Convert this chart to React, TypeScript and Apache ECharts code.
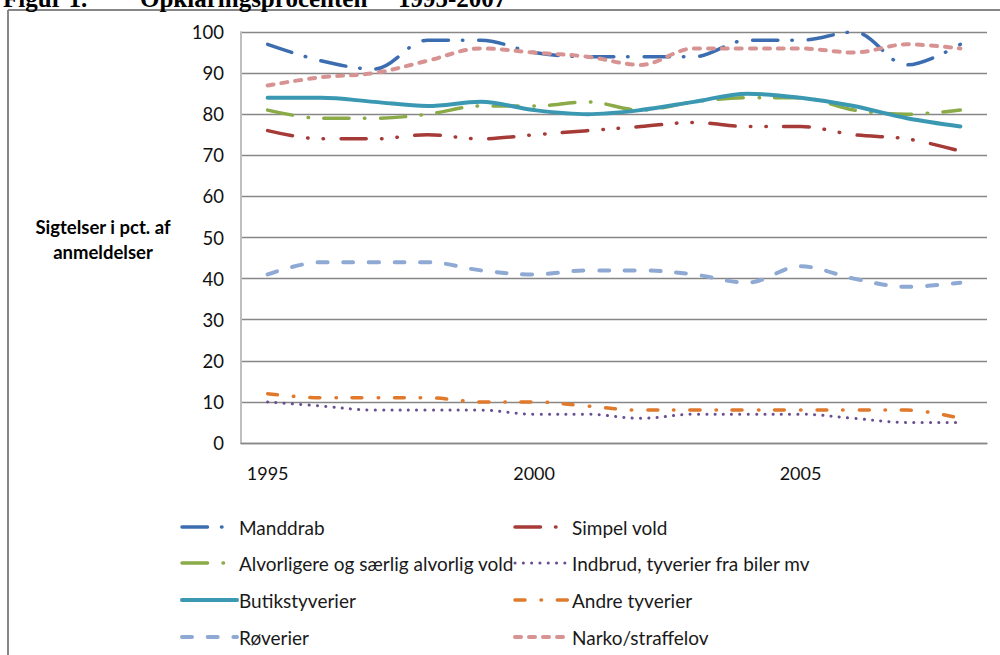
import React, { useEffect, useRef } from 'react';
import * as echarts from 'echarts';

const years = ['1995', '1996', '1997', '1998', '1999', '2000', '2001', '2002', '2003', '2004', '2005', '2006', '2007', '2008'];
const seriesNames = [
  'Manddrab',
  'Simpel vold',
  'Alvorligere og særlig alvorlig vold',
  'Indbrud, tyverier fra biler mv',
  'Butikstyverier',
  'Andre tyverier',
  'Røverier',
  'Narko/straffelov',
];
const manddrab = [97, 93, 91, 98, 98, 95, 94, 94, 94, 98, 98, 100, 92, 97];
const simpelVold = [76, 74, 74, 75, 74, 75, 76, 77, 78, 77, 77, 75, 74, 71];
const alvorligVold = [81, 79, 79, 80, 82, 82, 83, 81, 83, 84, 84, 81, 80, 81];
const indbrud = [10, 9, 8, 8, 8, 7, 7, 6, 7, 7, 7, 6, 5, 5];
const butik = [84, 84, 83, 82, 83, 81, 80, 81, 83, 85, 84, 82, 79, 77];
const andreTyverier = [12, 11, 11, 11, 10, 10, 9, 8, 8, 8, 8, 8, 8, 6];
const roeverier = [41, 44, 44, 44, 42, 41, 42, 42, 41, 39, 43, 40, 38, 39];
const narko = [87, 89, 90, 93, 96, 95, 94, 92, 96, 96, 96, 95, 97, 96];
const seriesValues = [manddrab, simpelVold, alvorligVold, indbrud, butik, andreTyverier, roeverier, narko];

const titleParts = ['Figur 1.', 'Opklaringsprocenten', '1995-2007'];
const yAxisTitle = 'Sigtelser i pct. af\nanmeldelser';

const colors = ['#3C6DB0', '#A53A37', '#8AAB48', '#6B4E91', '#3A98B3', '#E0792B', '#8EA9D3', '#D79392'];
const dashes: (number[] | 'solid')[] = [
  [25.5, 14, 0.5, 15.7],
  [25.5, 15, 0.5, 15, 0.5, 17.5],
  [25.5, 15.5, 0.5, 15.2],
  [0.1, 8.2],
  'solid',
  [10, 16, 0.5, 15.8],
  [10, 15.7],
  [6, 8],
];
const widths = [3.5, 3.5, 3.5, 3, 4, 3.5, 4, 4];

const FONT = 'Lato, "Open Sans", sans-serif';

export default function App() {
  const ref = useRef<HTMLDivElement>(null);
  useEffect(() => {
    const chart = echarts.init(ref.current!, null, { renderer: 'svg' });
    const legendCols = [182, 515];
    const legendRows = [527, 563, 600, 637];
    const legendGraphics: any[] = [];
    seriesNames.forEach((name, i) => {
      const x0 = legendCols[i % 2];
      const y = legendRows[Math.floor(i / 2)];
      legendGraphics.push({
        type: 'line',
        shape: { x1: x0, y1: y, x2: x0 + 55, y2: y },
        style: {
          stroke: colors[i],
          lineWidth: widths[i],
          lineDash: dashes[i] === 'solid' ? null : dashes[i],
          lineCap: 'round',
        },
      });
      legendGraphics.push({
        type: 'text',
        x: x0 + 57,
        y: y,
        style: { text: name, font: `19px ${FONT}`, fill: '#1a1a1a', verticalAlign: 'middle', align: 'left' },
      });
    });
    const titleX = [3, 140, 398];
    const option: any = {
      animation: false,
      backgroundColor: '#fff',
      grid: { left: 241, right: 13, top: 32, bottom: 212, containLabel: false },
      xAxis: {
        type: 'category',
        data: years,
        boundaryGap: true,
        axisLine: { show: true, lineStyle: { color: '#878787', width: 1.3 } },
        axisTick: { show: false },
        axisLabel: { interval: 4, margin: 21, fontSize: 18, fontFamily: FONT, color: '#111' },
        splitLine: { show: false },
      },
      yAxis: {
        type: 'value',
        min: 0,
        max: 100,
        interval: 10,
        axisLine: { show: true, lineStyle: { color: '#BFBFBF', width: 2 } },
        axisTick: { show: false },
        axisLabel: { margin: 17, fontSize: 18.5, fontFamily: FONT, color: '#111' },
        splitLine: { show: true, lineStyle: { color: '#878787', width: 1.3 } },
      },
      series: seriesNames.map((name, i) => ({
        name,
        type: 'line',
        data: seriesValues[i],
        smooth: 0.35,
        showSymbol: false,
        symbol: 'none',
        lineStyle: {
          color: colors[i],
          width: widths[i],
          type: dashes[i],
          cap: 'round',
          join: 'round',
        },
        z: 2 + i,
      })),
      graphic: [
        {
          type: 'line',
          shape: { x1: 8, y1: 10, x2: 1000, y2: 10 },
          style: { stroke: '#878787', lineWidth: 2 },
        },
        {
          type: 'line',
          shape: { x1: 8, y1: 10, x2: 8, y2: 655 },
          style: { stroke: '#878787', lineWidth: 2 },
        },
        ...titleParts.map((t, i) => ({
          type: 'text',
          x: titleX[i],
          y: 11,
          style: { text: t, font: 'bold 25px "Liberation Serif", serif', fill: '#000', verticalAlign: 'bottom' },
        })),
        {
          type: 'text',
          x: 103,
          y: 239,
          style: {
            text: yAxisTitle,
            font: `bold 18.5px ${FONT}`,
            fill: '#000',
            align: 'center',
            verticalAlign: 'middle',
            lineHeight: 25,
          },
        },
        ...legendGraphics,
      ],
    };
    chart.setOption(option);
    return () => chart.dispose();
  }, []);
  return (
    <div
      ref={ref}
      style={{ position: 'fixed', left: 0, top: 0, width: 1000, height: 655, background: '#fff' }}
    />
  );
}
